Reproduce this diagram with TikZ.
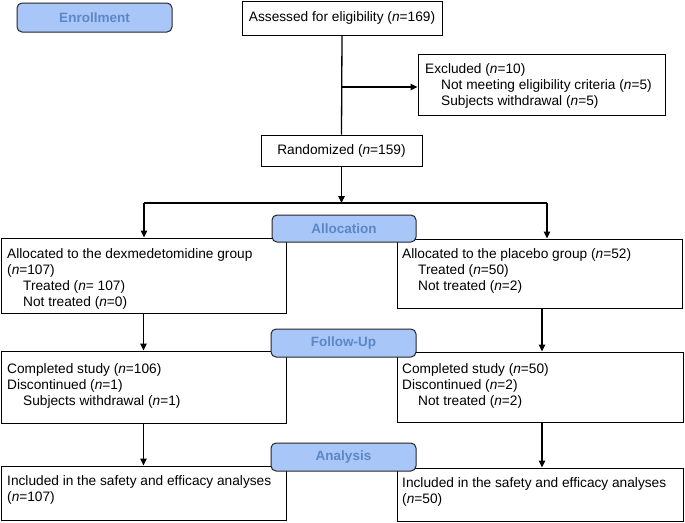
\documentclass[tikz,border=0pt]{standalone}
\usepackage{fontspec}
\setmainfont{Liberation Sans}
\usetikzlibrary{arrows.meta,calc}
\definecolor{lblfill}{HTML}{A9C6F8}
\definecolor{lbltext}{HTML}{5B87C5}
\begin{document}
\begin{tikzpicture}[x=1pt,y=-1pt,
  font=\fontsize{13.7}{16.3}\selectfont,
  box/.style={draw=black, line width=0.9pt, inner sep=0pt, fill=white},
  txt/.style={anchor=north west, inner sep=0pt, align=left},
  lbl/.style={draw=black!85, line width=1pt, rounded corners=5pt, fill=lblfill,
    text=lbltext, font=\fontsize{13.5}{15}\selectfont\bfseries, inner sep=0pt},
  conn/.style={line width=1.3pt},
  arr/.style={line width=1.3pt, -{Triangle[length=7pt,width=6.5pt]}}
]
\useasboundingbox (0,0) rectangle (685,522);

% main boxes
\node[box, minimum width=200pt, minimum height=34pt] (assess) at (342,18) {Assessed for eligibility (\textit{n}=169)};
\node[box, minimum width=247pt, minimum height=61pt] (ex) at (541.5,84.5) {};
\node[box, minimum width=161pt, minimum height=31pt] (rand) at (341.5,150.5) {Randomized (\textit{n}=159)};
\node[box, minimum width=285pt, minimum height=75pt] (la) at (143.5,275.5) {};
\node[box, minimum width=285pt, minimum height=69pt] (ra) at (539.5,273.5) {};
\node[box, minimum width=285pt, minimum height=72pt] (lf) at (143.5,387) {};
\node[box, minimum width=286pt, minimum height=70pt] (rf) at (540,387) {};
\node[box, minimum width=285pt, minimum height=54pt] (lb) at (143.5,493) {};
\node[box, minimum width=286pt, minimum height=53pt] (rb) at (540,494.5) {};

% box texts
\node[txt] (ext) at (425,62.9) {Excluded (\textit{n}=10)\\\hspace*{16pt}Not meeting eligibility criteria (\textit{n}=5)\\\hspace*{16pt}Subjects withdrawal (\textit{n}=5)};
\node[txt] (lat) at (7,247.9) {Allocated to the dexmedetomidine group\\(\textit{n}=107)\\\hspace*{16pt}Treated (\textit{n}= 107)\\\hspace*{16pt}Not treated (\textit{n}=0)};
\node[txt] (rat) at (402,247.9) {Allocated to the placebo group (\textit{n}=52)\\\hspace*{16pt}Treated (\textit{n}=50)\\\hspace*{16pt}Not treated (\textit{n}=2)};
\node[txt] (lft) at (7,362.9) {Completed study (\textit{n}=106)\\Discontinued (\textit{n}=1)\\\hspace*{16pt}Subjects withdrawal (\textit{n}=1)};
\node[txt] (rft) at (402,362.9) {Completed study (\textit{n}=50)\\Discontinued (\textit{n}=2)\\\hspace*{16pt}Not treated (\textit{n}=2)};
\node[txt] (lbt) at (7,474.9) {Included in the safety and efficacy analyses\\(\textit{n}=107)};
\node[txt] (rbt) at (402,476.9) {Included in the safety and efficacy analyses\\(\textit{n}=50)};

% connectors
\coordinate (jn) at (341.5,203);
\coordinate (jl) at (144,203);
\coordinate (jr) at (547,203);
\coordinate (rx) at (542,0);
\coordinate (exy) at (0,87);
\draw[conn] (assess.south) -- (rand.north);
\draw[arr] (assess.south |- exy) -- (ex.west |- exy);
\draw[arr] (rand.south) -- (jn);
\draw[conn] (jl) -- (jr);
\draw[arr] (jl) -- (jl |- la.north);
\draw[arr] (jr) -- (jr |- ra.north);
\draw[arr] (la.south) -- (lf.north);
\draw[arr] (ra.south -| rx) -- (rf.north -| rx);
\draw[arr] (lf.south) -- (lb.north);
\draw[arr] (rf.south -| rx) -- (rb.north -| rx);

% stage labels
\node[lbl, minimum width=155pt, minimum height=29pt] (enr) at (94.5,17.5) {Enrollment};
\node[lbl, minimum width=144pt, minimum height=27pt] (alloc) at (344,228.5) {Allocation};
\node[lbl, minimum width=145pt, minimum height=28pt] (fu) at (343.5,343) {Follow-Up};
\node[lbl, minimum width=145pt, minimum height=28pt] (an) at (343.5,457) {Analysis};
\end{tikzpicture}
\end{document}
